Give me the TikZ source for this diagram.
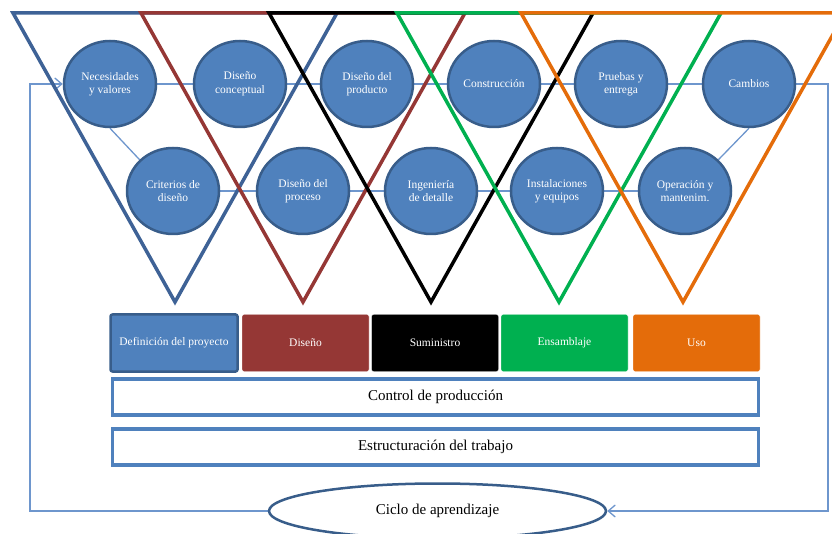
\documentclass[tikz,border=0pt]{standalone}
\usepackage{fontspec}
\setmainfont{Liberation Serif}
\usetikzlibrary{positioning,arrows.meta,shapes.geometric}
\definecolor{CircleBlue}{RGB}{79,129,189}
\definecolor{CircleEdge}{RGB}{56,93,138}
\definecolor{TriBlue}{RGB}{62,98,150}
\definecolor{TriRed}{RGB}{149,55,53}
\definecolor{TriGreen}{RGB}{0,176,80}
\definecolor{TriOrange}{RGB}{228,108,10}
\definecolor{LinkBlue}{RGB}{110,150,205}
\pgfdeclarelayer{background}
\pgfsetlayers{background,main}

\begin{document}
\begin{tikzpicture}[x=1pt,y=-1pt,
  stage/.style={ellipse, fill=CircleBlue, draw=CircleEdge, line width=2.5pt,
    minimum width=92pt, minimum height=86pt, inner sep=0pt, align=center,
    text=white, font=\fontsize{11.5}{13.3}\selectfont},
  phase/.style={rectangle, rounded corners=2pt, minimum width=127pt,
    minimum height=57pt, text=white, font=\fontsize{11.5}{13}\selectfont},
  band/.style={rectangle, draw=CircleBlue, line width=3.5pt, fill=white,
    minimum width=646pt, minimum height=36pt, font=\fontsize{15}{18}\selectfont},
  link/.style={LinkBlue, line width=1.3pt},
  tri/.style={line width=3.5pt, line join=miter}]
  \useasboundingbox (0,0) rectangle (832,534);
  \clip (0,0) rectangle (832,534);

  % phase triangles
  \foreach \lx/\col in {13/TriBlue,141/TriRed,269/black,397/TriGreen,521/TriOrange}
    \draw[tri,\col] (\lx,13) -- (\lx+324,13) -- (\lx+162,302) -- cycle;

  % upper row
  \node[stage] (nec) at (110,84) {Necesidades\\y valores};
  \node[stage] (concep) at (240,84) {Diseño\\conceptual};
  \node[stage] (prod) at (367,84) {Diseño del\\producto};
  \node[stage] (constr) at (494,84) {Construcción};
  \node[stage] (prueb) at (621,84) {Pruebas y\\entrega};
  \node[stage] (camb) at (749,84) {Cambios};
  % lower row
  \node[stage] (crit) at (173,191) {Criterios de\\diseño};
  \node[stage] (proc) at (303,191) {Diseño del\\proceso};
  \node[stage] (ing) at (431,191) {Ingeniería\\de detalle};
  \node[stage] (inst) at (557,191) {Instalaciones\\y equipos};
  \node[stage] (oper) at (685,191) {Operación y\\mantenim.};

  % phases
  \node[phase, fill=CircleBlue, draw=CircleEdge, line width=2.5pt] (def) at (174,343) {Definición del proyecto};
  \node[phase, fill=TriRed, draw=white] (dis) at (305.5,343) {Diseño};
  \node[phase, fill=black, draw=white] (sum) at (435,343) {Suministro};
  \node[phase, fill=TriGreen, draw=white] (ens) at (564.5,343) {Ensamblaje};
  \node[phase, fill=TriOrange, draw=white] (uso) at (696.5,343) {Uso};

  \node[band] (ctrl) at (435.5,397) {Control de producción};
  \node[band] (estr) at (435.5,447) {Estructuración del trabajo};

  \node[ellipse, draw=CircleEdge, line width=2.5pt, fill=white,
    minimum width=337pt, minimum height=55pt, font=\fontsize{15}{18}\selectfont]
    (ciclo) at (437.5,511) {Ciclo de aprendizaje};

  \coordinate (ne) at (828,511);
  \coordinate (sw) at (30,511);

  \begin{pgfonlayer}{background}
    \foreach \a/\b in {nec/concep,concep/prod,prod/constr,constr/prueb,prueb/camb,
        crit/proc,proc/ing,ing/inst,inst/oper}
      \draw[link] (\a) -- (\b);
    \draw[link] (nec.south) -- (crit.north west);
    \draw[link] (oper.north east) -- (camb.south);
    % learning loop
    \draw[link, -{Straight Barb[length=7pt,width=12pt]}] (camb.east) -| (ne) -- (ciclo.east);
    \draw[link, -{Straight Barb[length=7pt,width=12pt]}] (ciclo.west) -- (sw) |- (nec.west);
  \end{pgfonlayer}
\end{tikzpicture}
\end{document}
